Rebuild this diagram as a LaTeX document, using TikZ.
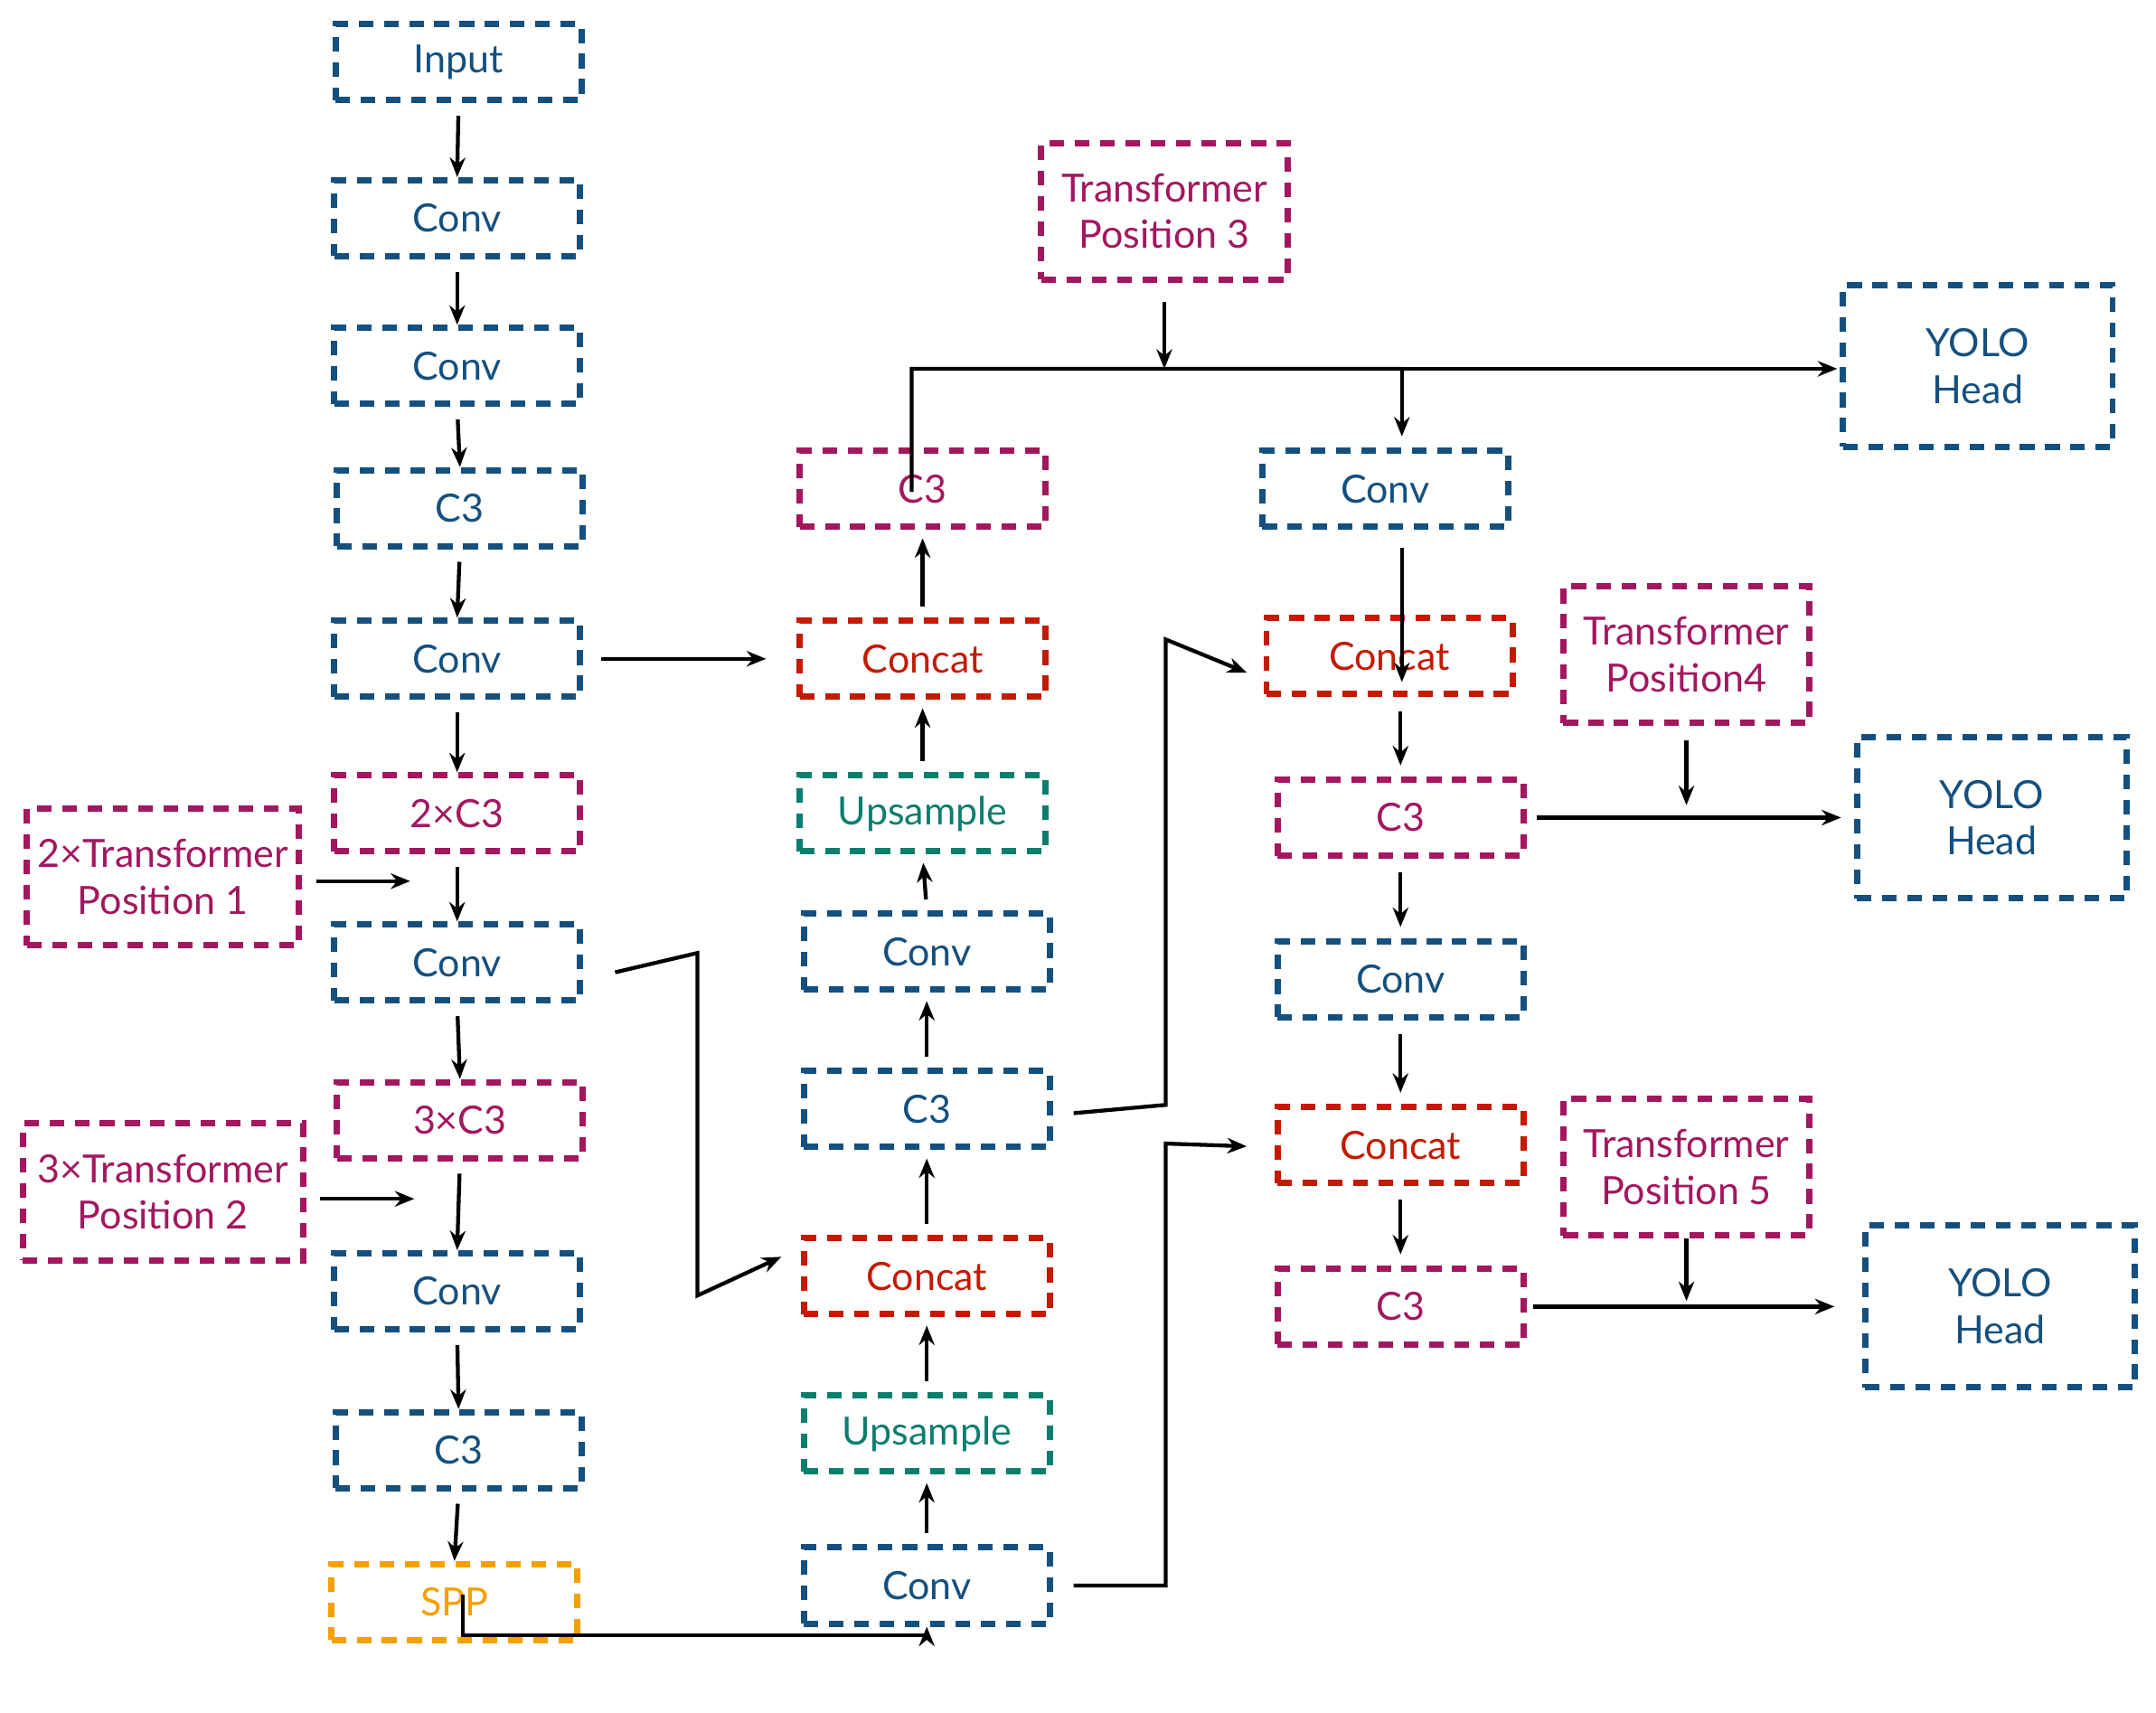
\documentclass[tikz,border=0pt]{standalone}
\usepackage{fontspec}
\setmainfont{Lato}
\usetikzlibrary{arrows.meta}
\definecolor{cb}{HTML}{14507F}
\definecolor{cm}{HTML}{A3175F}
\definecolor{cr}{HTML}{C41A00}
\definecolor{ct}{HTML}{0C7E6E}
\definecolor{co}{HTML}{F5A000}
\begin{document}
\begin{tikzpicture}[x=0.01cm,y=-0.01cm,
 box/.style={draw,line width=1.3pt,dash pattern=on 3pt off 2.2pt,minimum width=1.78cm,minimum height=0.55cm,inner sep=0pt,align=center,font=\fontsize{8}{9.6}\selectfont},
 B/.style={box,draw=cb,text=cb},
 M/.style={box,draw=cm,text=cm},
 R/.style={box,draw=cr,text=cr},
 T/.style={box,draw=ct,text=ct},
 O/.style={box,draw=co,text=co},
 tall/.style={minimum height=0.99cm},
 yolo/.style={B,minimum width=1.95cm,minimum height=1.17cm},
 arr/.style={-{Stealth[length=4pt,width=3.2pt]},line width=0.8pt},
 ln/.style={line width=0.8pt}]
\useasboundingbox (0,0) rectangle (1561,1240);
% left column
\node[B] (in) at (332,45) {Input};
\node[B] (c1) at (331,158) {Conv};
\node[B] (c2) at (331,265) {Conv};
\node[B] (l3) at (333,368) {C3};
\node[B] (c4) at (331,477) {Conv};
\node[M] (x2) at (331,589) {2×C3};
\node[B] (c5) at (331,697) {Conv};
\node[M] (x3) at (333,811) {3×C3};
\node[B] (c6) at (331,935) {Conv};
\node[B] (l7) at (332,1050) {C3};
\node[O] (spp) at (329,1160) {SPP};
\node[M,tall,minimum width=1.97cm] (t1) at (118,635) {2×Transformer\\Position 1};
\node[M,tall,minimum width=2.03cm] (t2) at (118,863) {3×Transformer\\Position 2};
% middle column
\node[M] (m1) at (668,354) {C3};
\node[R] (m2) at (668,477) {Concat};
\node[T] (m3) at (668,589) {Upsample};
\node[B] (m4) at (671,689) {Conv};
\node[B] (m5) at (671,803) {C3};
\node[R] (m6) at (671,924) {Concat};
\node[T] (m7) at (671,1038) {Upsample};
\node[B] (m8) at (671,1148) {Conv};
\node[M,tall] (t3) at (843,153) {Transformer\\Position 3};
% right column
\node[B] (r1) at (1003,354) {Conv};
\node[R] (r2) at (1006,475) {Concat};
\node[M] (r3) at (1014,592) {C3};
\node[B] (r4) at (1014,709) {Conv};
\node[R] (r5) at (1014,829) {Concat};
\node[M] (r6) at (1014,946) {C3};
\node[M,tall] (t4) at (1221,474) {Transformer\\Position4};
\node[M,tall] (t5) at (1221,845) {Transformer\\Position 5};
\node[yolo] (y1) at (1432,265) {YOLO\\Head};
\node[yolo] (y2) at (1442,592) {YOLO\\Head};
\node[yolo] (y3) at (1448,946) {YOLO\\Head};
% left column arrows
\foreach \a/\b in {in/c1,c1/c2,c2/l3,l3/c4,c4/x2,x2/c5,c5/x3,x3/c6,c6/l7,l7/spp}
  \draw[arr,shorten <=0.09cm] (\a.south) -- (\b.north);
\coordinate (p1) at (297,638);
\coordinate (p2) at (300,868);
\draw[arr] (t1.east|-p1) ++(10,0) -- (p1);
\draw[arr] (t2.east|-p2) ++(10,0) -- (p2);
\draw[arr,shorten <=0.13cm,shorten >=0.22cm] (c4.east) -- (m2.west);
\draw[arr] ([xshift=0.23cm,yshift=-0.07cm]c5.east) -- (505,690) -- (505,938) -- ([xshift=-0.14cm,yshift=0.14cm]m6.west);
\draw[arr] ([xshift=0.06cm,yshift=0.35cm]spp.south) -- ++(0,29) -| (m8.south);
% middle arrows
\foreach \a/\b in {m8/m7,m7/m6,m6/m5,m5/m4,m4/m3,m3/m2,m2/m1}
  \draw[arr,shorten <=0.08cm,shorten >=0.06cm] (\a.north) -- (\b.south);
\draw[arr] ([xshift=0.15cm,yshift=-0.03cm]m5.east) -- (844,800) -- (844,463) -- ([xshift=-0.12cm,yshift=-0.12cm]r2.west);
\draw[arr] ([xshift=0.15cm]m8.east) -- (844,1148) -- (844,828) -- ([xshift=-0.2cm,yshift=-0.01cm]r5.west);
\coordinate (j) at (1015,267);
\draw[ln] ([xshift=-0.08cm,yshift=-0.32cm]m1.north) -- (660,267) -- (j);
\draw[arr] (j) -- ([xshift=-0.02cm]y1.west|-j);
\draw[arr,shorten <=0.14cm] (t3.south) -- (843,267);
\draw[arr] (j) -- (1015,316);
% right arrows
\draw[arr,shorten <=0.13cm,shorten >=0.11cm] (r1.south-|1015,0) -- (r2.south-|1015,0) ;
\foreach \a/\b in {r2/r3,r3/r4,r4/r5,r5/r6}
  \draw[arr,shorten <=0.1cm,shorten >=0.08cm] (\a.south-|1014,0) -- (\b.north-|1014,0);
\draw[arr,shorten <=0.07cm,shorten >=0.1cm] (r3.east) -- (y2.west-|1343,0);
\draw[arr,shorten <=0.1cm] (t4.south) -- (1221,583);
\draw[arr,shorten <=0.05cm,shorten >=0.2cm] (r6.east) -- (y3.west);
\draw[arr] (t5.south) -- (1221,942);
\end{tikzpicture}
\end{document}
